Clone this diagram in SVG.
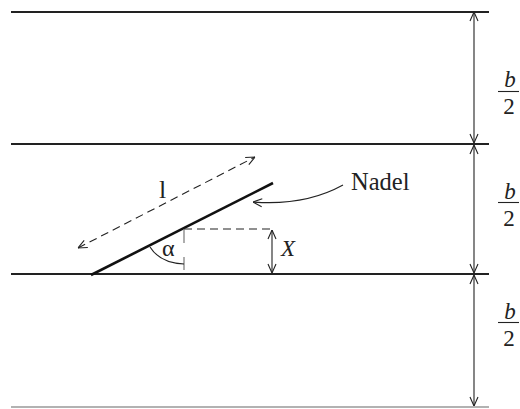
<svg xmlns="http://www.w3.org/2000/svg" width="520" height="409" viewBox="0 0 520 409">
<style>
.ln{stroke:#222;stroke-width:1.8;fill:none}
.thin{stroke:#222;stroke-width:1.1;fill:none}
.dash{stroke:#222;stroke-width:1.1;fill:none;stroke-dasharray:8,5}
.t{font-family:"Liberation Serif",serif;fill:#222}
.f{font-family:"Liberation Serif",serif;fill:#222;font-size:23px;text-anchor:middle}
</style>
<defs>
<marker id="ah" viewBox="0 0 10 10" refX="10" refY="5" markerWidth="10" markerHeight="10" markerUnits="userSpaceOnUse" orient="auto-start-reverse">
<path d="M1,1 L10,5 L1,9" fill="none" stroke="#222" stroke-width="1.1"/>
</marker>
</defs>
<g id="lines">
<line class="ln" x1="11" y1="12" x2="489" y2="12"/>
<line class="ln" x1="11" y1="144" x2="489" y2="144"/>
<line class="ln" x1="11" y1="274" x2="489" y2="274"/>
<line x1="11" y1="407" x2="489" y2="407" stroke="#999" stroke-width="1.6"/>
</g>
<g id="needle">
<line x1="91" y1="275" x2="273" y2="183" stroke="#111" stroke-width="2.6"/>
</g>
<g id="connectors">
<line class="dash" x1="78" y1="248" x2="255" y2="157" marker-start="url(#ah)" marker-end="url(#ah)"/>
<line class="dash" x1="184" y1="229" x2="272" y2="229"/>
<line x1="184" y1="229" x2="184" y2="243" stroke="#777" stroke-width="1.2"/>
<line x1="184" y1="257" x2="184" y2="270" stroke="#777" stroke-width="1.2"/>
<path class="thin" d="M150,247 Q160,263 184,264"/>
<line class="thin" x1="272" y1="230" x2="272" y2="273" marker-start="url(#ah)" marker-end="url(#ah)"/>
<path class="thin" d="M343,185 Q305,206 253,202" marker-end="url(#ah)"/>
<line class="thin" x1="474" y1="12" x2="474" y2="143" marker-start="url(#ah)" marker-end="url(#ah)"/>
<line class="thin" x1="474" y1="145" x2="474" y2="273" marker-start="url(#ah)" marker-end="url(#ah)"/>
<line class="thin" x1="474" y1="275" x2="474" y2="406" marker-start="url(#ah)" marker-end="url(#ah)"/>
</g>
<g id="labels">
<text class="t" x="159" y="198" font-size="26">l</text>
<text class="t" x="162" y="256" font-size="24">α</text>
<text class="t" x="281" y="256" font-size="23" font-style="italic">X</text>
<text class="t" x="351" y="190" font-size="24.5">Nadel</text>
<g id="frac1">
<text class="f" x="510" y="87" font-style="italic">b</text>
<line class="thin" x1="498" y1="91.5" x2="519" y2="91.5"/>
<text class="f" x="509" y="114">2</text>
</g>
<g id="frac2">
<text class="f" x="510" y="199" font-style="italic">b</text>
<line class="thin" x1="498" y1="202.5" x2="519" y2="202.5"/>
<text class="f" x="509" y="226">2</text>
</g>
<g id="frac3">
<text class="f" x="510" y="319" font-style="italic">b</text>
<line class="thin" x1="498" y1="322.5" x2="519" y2="322.5"/>
<text class="f" x="509" y="346">2</text>
</g>
</g>
</svg>
